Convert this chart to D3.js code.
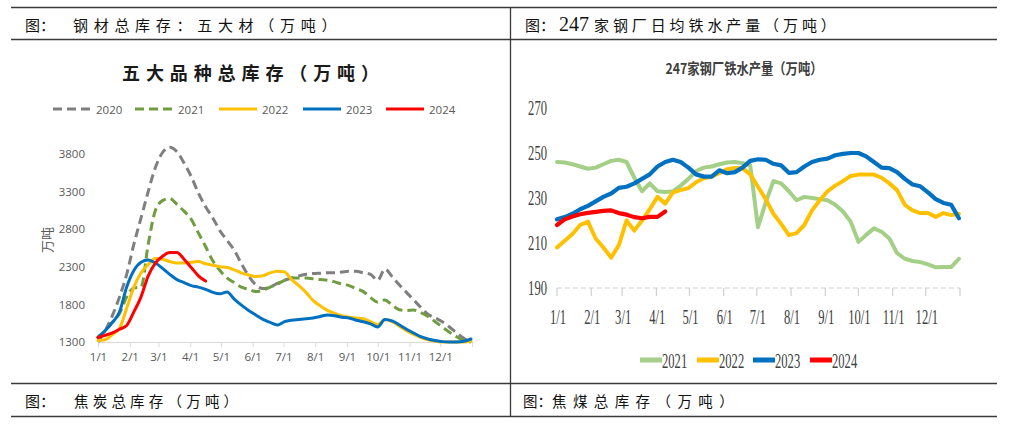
<!DOCTYPE html>
<html><head><meta charset="utf-8">
<script src="https://cdn.jsdelivr.net/npm/d3@7"></script>
<style>body{margin:0;background:#fff;} svg{display:block;}</style>
</head><body>
<svg id="c" width="1009" height="427"></svg>
<script>
// ---------- data ----------
const monthLabels = ["1/1","2/1","3/1","4/1","5/1","6/1","7/1","8/1","9/1","10/1","11/1","12/1"];
const monthStartDays = [0,31,59,90,120,151,181,212,243,273,304,334];

// Left chart: 五大品种总库存 (weekly, from 1/1)
const steelYears = ["2020","2021","2022","2023","2024"];
const steel2020 = [1300,1450,1650,1900,2200,2600,2950,3300,3620,3820,3890,3830,3680,3500,3280,3100,2950,2780,2650,2520,2340,2180,2060,2010,2030,2080,2120,2150,2180,2200,2210,2215,2220,2220,2230,2240,2240,2220,2200,2120,2270,2170,2060,1960,1860,1760,1670,1620,1570,1500,1420,1350,1300];
const steel2021 = [1370,1450,1560,1680,1900,2020,2030,2600,3050,3180,3210,3130,3040,2930,2750,2570,2380,2250,2150,2090,2030,2000,1970,1990,2030,2070,2120,2150,2150,2150,2140,2130,2120,2100,2070,2050,2010,1970,1890,1830,1860,1790,1730,1720,1725,1690,1640,1570,1500,1430,1370,1320,1300];
const steel2022 = [1320,1330,1400,1480,1750,2030,2220,2330,2410,2400,2370,2350,2350,2360,2370,2340,2320,2300,2290,2260,2220,2190,2170,2180,2220,2240,2230,2130,2050,1960,1850,1780,1720,1680,1650,1630,1620,1610,1570,1530,1600,1570,1510,1450,1400,1360,1330,1310,1300,1300,1300,1300,1310];
const steel2023 = [1360,1450,1560,1700,2030,2250,2360,2390,2350,2280,2200,2130,2090,2050,2030,2000,1960,1940,1965,1870,1790,1720,1660,1600,1560,1525,1570,1590,1600,1610,1620,1640,1660,1650,1630,1620,1590,1570,1540,1500,1600,1580,1530,1470,1420,1370,1340,1320,1305,1300,1300,1310,1340];
const steel2024 = [1360,1390,1420,1470,1520,1700,1900,2180,2350,2440,2490,2490,2400,2290,2180,2110];
const steelTicks = [1300,1800,2300,2800,3300,3800];

// Right chart: 247家钢厂铁水产量 (weekly, from 1/1)
const ironYears = ["2021","2022","2023","2024"];
const iron2021 = [246,245.8,245,244,243,243.5,245,246.5,247,246,239,233,236.5,233,232.7,233,235.5,238.5,242,243.5,244,245,245.8,246,245.5,244.5,217,228,237.5,236.5,233,229,230.5,230,229.5,229,227,224,219.5,210.5,213.6,216.5,215,212,205.5,203,202,201.5,200.5,199.2,199.3,199.3,203];
const iron2022 = [208,211,214,218,219.5,212,208,203.5,209,220,215.5,220,225,230.5,227.5,232.5,233.5,234.4,237,238.8,239.5,241,242.8,243.3,243.3,240.5,235,229.5,223,218.5,213.5,214.4,218,224.5,229,233,235.5,237.5,239.8,240.4,240.4,240.4,239,236.5,233.5,227,224.5,223.3,223.3,221.6,223.3,222.4,223];
const iron2023 = [220.5,221.5,223,225,226.5,228.5,230.5,232,234.5,235,236.5,238.5,240.5,244,246,247,246,243.5,240.5,239.5,239.5,242.3,241,241.5,243.5,246.5,247.2,247,245.2,244.5,241.2,241.5,244,246,247,247.5,249,249.6,250,250,248.5,246,243.5,243.3,241.5,238.5,236,235.2,232.5,229.5,227.8,227,221];
const iron2024 = [218,220.5,221.8,222.8,223.4,223.8,224.3,224.5,223.3,222.6,221.5,221,221.6,221.6,224];
const ironTicks = [190,210,230,250,270];

// ---------- drawing ----------
const svg = d3.select("#c");
const CJK = "'Noto Sans CJK SC','Noto Sans CJK JP',sans-serif";

// frame lines
const frame = svg.append("g").attr("stroke","#3a3a3a").attr("stroke-width",1.3);
[7.5,39.5,383.5,416.5].forEach(y=>frame.append("line").attr("x1",11).attr("x2",997).attr("y1",y).attr("y2",y));
frame.append("line").attr("x1",510.5).attr("x2",510.5).attr("y1",7).attr("y2",417);

function hdr(x,y,t,ls,size){
  svg.append("text").attr("x",x).attr("y",y).attr("dominant-baseline","central")
    .style("font-family",CJK).style("font-size",(size||15)+"px").style("letter-spacing",(ls||0)+"px")
    .attr("fill","#111").text(t);
}
hdr(25,24,"图：",0);
hdr(73,24,"钢材总库存：五大材（万吨）",5.7);
hdr(525,24,"图：",0);
svg.append("text").attr("x",559).attr("y",24).attr("dominant-baseline","central")
  .style("font-family","'Liberation Serif',serif").style("font-size","20px").attr("fill","#111").text("247");
hdr(594,24,"家钢厂日均铁水产量（万吨）",3.9);
hdr(25,400,"图：",0);
hdr(74,400,"焦炭总库存（万吨）",4.2,14.5);
hdr(523,400,"图：",0,14.5);
hdr(552,400,"焦煤总库存（万吨）",6.4,14.5);

// ===== Left chart =====
const L = svg.append("g");
const xL = d3.scaleLinear().domain([0,365]).range([98,472]);
const yL = d3.scaleLinear().domain([1300,3800]).range([342,154]);
const sansF = "'Open Sans','Liberation Sans',sans-serif";

L.append("text").attr("x",122).attr("y",72).attr("dominant-baseline","central")
  .style("font-family",CJK).style("font-weight","bold").style("font-size","18px").style("letter-spacing","5.9px")
  .attr("fill","#1a1a1a").text("五大品种总库存（万吨）");

const gxL = L.append("g").attr("transform","translate(0,342)")
  .call(d3.axisBottom(xL).tickValues([...monthStartDays,365]).tickFormat((d,i)=>monthLabels[i]||"")
    .tickSize(5).tickSizeOuter(0).tickPadding(6));
gxL.select(".domain").attr("stroke","#d9d9d9");
gxL.selectAll(".tick line").attr("stroke","#d9d9d9");
gxL.selectAll(".tick text").attr("fill","#595959").style("font-family",sansF).style("font-size","11.5px");

const gyL = L.append("g").attr("transform","translate(98,0)")
  .call(d3.axisLeft(yL).tickValues(steelTicks).tickFormat(d3.format("d")).tickSize(0).tickPadding(13));
gyL.select(".domain").remove();
gyL.selectAll(".tick text").attr("fill","#595959").style("font-family",sansF).style("font-size","11.5px");

L.append("text").attr("transform","translate(46,240) rotate(-90)").attr("text-anchor","middle")
  .attr("dominant-baseline","central").style("font-family",CJK).style("font-size","13px").attr("fill","#595959").text("万吨");

const steelSeries = [
  {name:steelYears[0], values:steel2020, color:"#7f7f7f", dash:"9,5"},
  {name:steelYears[1], values:steel2021, color:"#6f9d3f", dash:"9,5"},
  {name:steelYears[2], values:steel2022, color:"#ffc000", dash:null},
  {name:steelYears[3], values:steel2023, color:"#0070c0", dash:null},
  {name:steelYears[4], values:steel2024, color:"#ff0000", dash:null}
];
const lineL = d3.line().x((d,i)=>xL(i*7)).y(d=>yL(d)).curve(d3.curveMonotoneX);
steelSeries.forEach(s=>{
  L.append("path").datum(s.values).attr("d",lineL).attr("fill","none")
    .attr("stroke",s.color).attr("stroke-width",3).attr("stroke-linecap",s.dash?"butt":"round")
    .attr("stroke-linejoin","round").attr("stroke-dasharray",s.dash);
});
const legLx = [53,135,219,303,386];
steelSeries.forEach((s,i)=>{
  L.append("line").attr("x1",legLx[i]).attr("x2",legLx[i]+38).attr("y1",109).attr("y2",109)
    .attr("stroke",s.color).attr("stroke-width",3).attr("stroke-dasharray",s.dash);
  L.append("text").attr("x",legLx[i]+43).attr("y",109).attr("dominant-baseline","central")
    .style("font-family",sansF).style("font-size","11.5px").attr("fill","#595959").text(s.name);
});

// ===== Right chart =====
const R = svg.append("g");
const xR = d3.scaleLinear().domain([0,365]).range([557,960]);
const yR = d3.scaleLinear().domain([190,270]).range([288,108]);
const serifF = "'Liberation Serif','Times New Roman',serif";
const SX = 0.63;

R.append("text").attr("transform","translate(744,67) scale(0.82,1)").attr("text-anchor","middle")
  .attr("dominant-baseline","central").style("font-family",CJK).style("font-weight","bold")
  .style("font-size","15px").attr("fill","#404040").text("247家钢厂铁水产量（万吨）");

R.append("line").attr("x1",xR(0)).attr("x2",xR(365)).attr("y1",yR(190)).attr("y2",yR(190))
  .attr("stroke","#cfcfcf").attr("stroke-width",1.2).attr("stroke-dasharray","5,3");
R.selectAll(".tkR").data([...monthStartDays,365]).join("line")
  .attr("x1",d=>xR(d)).attr("x2",d=>xR(d)).attr("y1",yR(190)).attr("y2",yR(190)+8)
  .attr("stroke","#cfcfcf").attr("stroke-width",1.2);
R.selectAll(".xlR").data(monthStartDays).join("text")
  .attr("transform",d=>`translate(${xR(d)+1},317) scale(${SX},1)`).attr("text-anchor","middle")
  .attr("dominant-baseline","central").style("font-family",serifF).style("font-size","20px")
  .attr("fill","#404040").text((d,i)=>monthLabels[i]);
R.selectAll(".ylR").data(ironTicks).join("text")
  .attr("transform",d=>`translate(547,${yR(d)}) scale(${SX},1)`).attr("text-anchor","end")
  .attr("dominant-baseline","central").style("font-family",serifF).style("font-size","20px")
  .attr("fill","#404040").text(d=>d);

const ironSeries = [
  {name:ironYears[0], values:iron2021, color:"#a3cf86", w:4},
  {name:ironYears[1], values:iron2022, color:"#ffc000", w:4},
  {name:ironYears[2], values:iron2023, color:"#0070c0", w:4.2},
  {name:ironYears[3], values:iron2024, color:"#ff0000", w:4.2}
];
const lineR = d3.line().x((d,i)=>xR(i*7)).y(d=>yR(d)).curve(d3.curveLinear);
ironSeries.forEach(s=>{
  R.append("path").datum(s.values).attr("d",lineR).attr("fill","none")
    .attr("stroke",s.color).attr("stroke-width",s.w).attr("stroke-linejoin","round").attr("stroke-linecap","round");
});
const legRx = [640,697,753,810];
ironSeries.forEach((s,i)=>{
  R.append("line").attr("x1",legRx[i]).attr("x2",legRx[i]+22).attr("y1",360).attr("y2",360)
    .attr("stroke",s.color).attr("stroke-width",5);
  R.append("text").attr("transform",`translate(${legRx[i]+22},361) scale(0.6,1)`)
    .attr("dominant-baseline","central").style("font-family",serifF).style("font-size","21px")
    .attr("fill","#404040").text(s.name);
});
</script>
</body></html>
